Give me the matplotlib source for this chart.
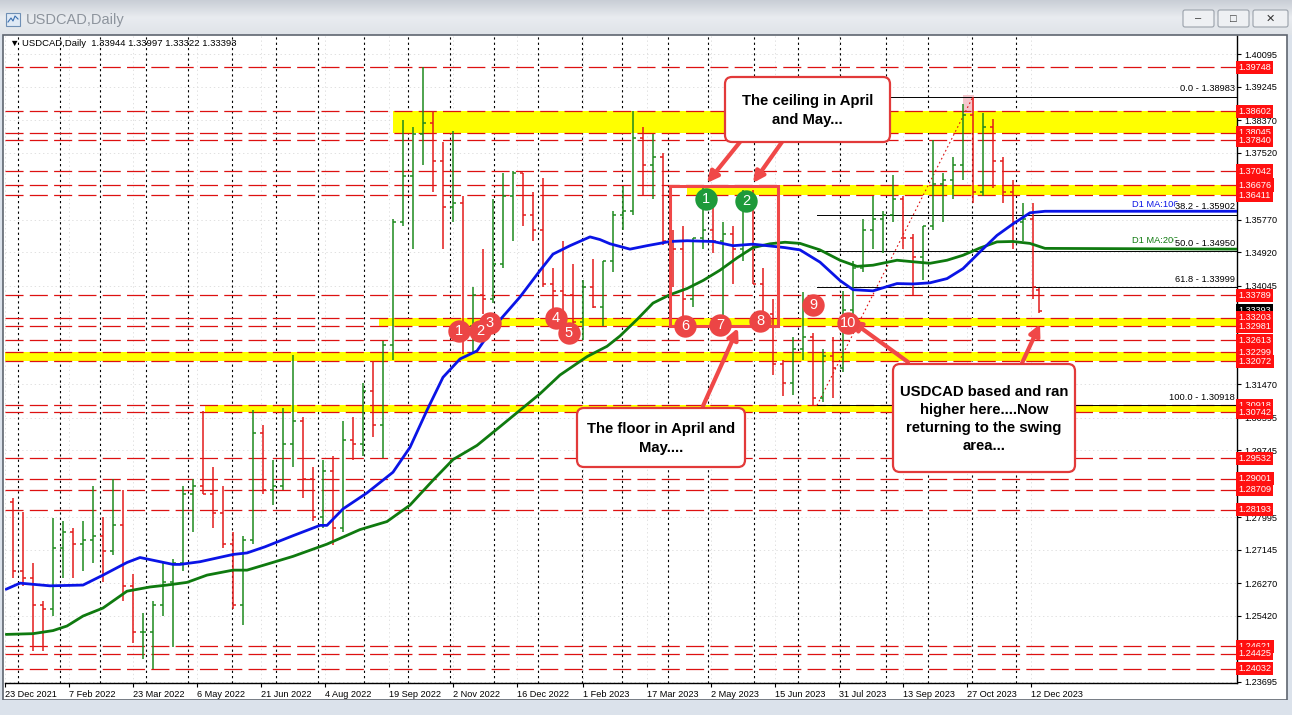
import numpy as np
import matplotlib
matplotlib.use("Agg")
import matplotlib.pyplot as plt
import matplotlib.transforms as mtransforms
from matplotlib.patches import FancyBboxPatch, Rectangle, FancyArrowPatch
from matplotlib.colors import LinearSegmentedColormap

plt.rcParams['font.family'] = ['Liberation Sans', 'DejaVu Sans']
plt.rcParams['lines.scale_dashes'] = False

ORIGIN = "2021-12-23"          # first bar on screen = bar 0

# ---- weekly OHLC, weeks from 27 Dec 2021; last entry is the 18 Dec 2023 daily bar
opens = [1.2840, 1.2660, 1.2640, 1.2570, 1.2560, 1.2720, 1.2760, 1.2730, 1.2740, 1.2750,
         1.2710, 1.2780, 1.2620, 1.2500, 1.2500, 1.2570, 1.2630, 1.2680, 1.2860, 1.2880,
         1.2860, 1.2810, 1.2730, 1.2570, 1.2740, 1.3020, 1.2870, 1.2880, 1.2990, 1.3050,
         1.2900, 1.2800, 1.2920, 1.2770, 1.3000, 1.2990, 1.3130, 1.3040, 1.3250, 1.3570,
         1.3690, 1.3800, 1.3830, 1.3730, 1.3610, 1.3620, 1.3300, 1.3380, 1.3370, 1.3460,
         1.3640, 1.3700, 1.3590, 1.3550, 1.3410, 1.3390, 1.3380, 1.3310, 1.3400, 1.3350,
         1.3470, 1.3590, 1.3600, 1.3790, 1.3720, 1.3740, 1.3520, 1.3500, 1.3370, 1.3530,
         1.3550, 1.3520, 1.3540, 1.3500, 1.3640, 1.3410, 1.3330, 1.3200, 1.3150, 1.3240,
         1.3270, 1.3110, 1.3220, 1.3190, 1.3340, 1.3450, 1.3550, 1.3580, 1.3590, 1.3630,
         1.3530, 1.3480, 1.3560, 1.3670, 1.3680, 1.3720, 1.3850, 1.3650, 1.3820, 1.3730,
         1.3650, 1.3570, 1.3580, 1.33944]
highs = [1.2850, 1.2813, 1.2680, 1.2580, 1.2796, 1.2790, 1.2770, 1.2790, 1.2880, 1.2800,
         1.2900, 1.2870, 1.2650, 1.2550, 1.2580, 1.2680, 1.2690, 1.2880, 1.2900, 1.3077,
         1.2930, 1.2880, 1.2760, 1.2750, 1.3080, 1.3040, 1.2950, 1.3085, 1.3223, 1.3060,
         1.2930, 1.2950, 1.2960, 1.3050, 1.3060, 1.3150, 1.3208, 1.3260, 1.3580, 1.3838,
         1.3820, 1.3977, 1.3860, 1.3780, 1.3808, 1.3640, 1.3400, 1.3500, 1.3630, 1.3700,
         1.3705, 1.3700, 1.3650, 1.3685, 1.3450, 1.3520, 1.3460, 1.3420, 1.3475, 1.3470,
         1.3600, 1.3665, 1.3862, 1.3820, 1.3800, 1.3750, 1.3550, 1.3560, 1.3530, 1.3667,
         1.3640, 1.3570, 1.3560, 1.3655, 1.3655, 1.3450, 1.3370, 1.3210, 1.3270, 1.3387,
         1.3280, 1.3240, 1.3270, 1.3390, 1.3470, 1.3580, 1.3640, 1.3600, 1.3694, 1.3640,
         1.3540, 1.3560, 1.3785, 1.3700, 1.3740, 1.3880, 1.3898, 1.3856, 1.3840, 1.3740,
         1.3680, 1.3620, 1.3620, 1.33997]
lows = [1.2640, 1.2620, 1.2450, 1.2450, 1.2540, 1.2640, 1.2640, 1.2660, 1.2680, 1.2630,
        1.2700, 1.2580, 1.2470, 1.2430, 1.2403, 1.2540, 1.2460, 1.2660, 1.2760, 1.2860,
        1.2770, 1.2720, 1.2560, 1.2518, 1.2730, 1.2860, 1.2830, 1.2870, 1.2930, 1.2850,
        1.2790, 1.2770, 1.2728, 1.2760, 1.2950, 1.2960, 1.3010, 1.2953, 1.3210, 1.3560,
        1.3501, 1.3720, 1.3650, 1.3500, 1.3570, 1.3226, 1.3226, 1.3330, 1.3360, 1.3450,
        1.3520, 1.3560, 1.3520, 1.3400, 1.3320, 1.3300, 1.3300, 1.3262, 1.3345, 1.3300,
        1.3440, 1.3550, 1.3590, 1.3640, 1.3630, 1.3510, 1.3400, 1.3301, 1.3350, 1.3500,
        1.3490, 1.3315, 1.3410, 1.3470, 1.3410, 1.3320, 1.3170, 1.3117, 1.3120, 1.3210,
        1.3093, 1.3100, 1.3110, 1.3180, 1.3320, 1.3440, 1.3500, 1.3490, 1.3570, 1.3500,
        1.3380, 1.3420, 1.3550, 1.3570, 1.3630, 1.3680, 1.3620, 1.3640, 1.3660, 1.3620,
        1.3500, 1.3520, 1.3370, 1.33322]
closes = [1.2660, 1.2640, 1.2570, 1.2560, 1.2720, 1.2760, 1.2730, 1.2740, 1.2750, 1.2710,
          1.2780, 1.2620, 1.2500, 1.2500, 1.2570, 1.2630, 1.2680, 1.2860, 1.2880, 1.2860,
          1.2810, 1.2730, 1.2570, 1.2740, 1.3020, 1.2870, 1.2880, 1.2990, 1.3050, 1.2900,
          1.2800, 1.2920, 1.2770, 1.3000, 1.2990, 1.3130, 1.3040, 1.3250, 1.3570, 1.3690,
          1.3800, 1.3830, 1.3730, 1.3610, 1.3620, 1.3300, 1.3380, 1.3370, 1.3460, 1.3640,
          1.3700, 1.3590, 1.3550, 1.3410, 1.3390, 1.3380, 1.3310, 1.3400, 1.3350, 1.3470,
          1.3590, 1.3600, 1.3790, 1.3720, 1.3740, 1.3520, 1.3500, 1.3370, 1.3530, 1.3550,
          1.3520, 1.3540, 1.3500, 1.3640, 1.3410, 1.3330, 1.3200, 1.3150, 1.3240, 1.3270,
          1.3110, 1.3220, 1.3190, 1.3340, 1.3450, 1.3550, 1.3580, 1.3590, 1.3630, 1.3530,
          1.3480, 1.3560, 1.3670, 1.3680, 1.3720, 1.3850, 1.3650, 1.3820, 1.3730, 1.3650,
          1.3570, 1.3580, 1.3400, 1.33393]

# ---- moving averages (bar number, value)
ma100_bar = [0.5, 7.5, 22.5, 39, 49, 61, 67.5, 84, 87.5, 97.5,
             114, 121, 130, 144, 157.5, 161, 169, 181, 187.5, 194,
             202.5, 211, 219, 227.5, 236, 244, 257.5, 267.5, 274, 282.5,
             292.5, 297.5, 302.5, 312.5, 321, 332.5, 341, 354, 364, 374,
             390, 397.5, 407.5, 417.5, 424, 434, 446, 454, 462.5, 471,
             479, 487.5, 496, 504, 512.5, 520, 616]
ma100 = [1.2611, 1.2627, 1.2620, 1.2622, 1.2648, 1.2681, 1.2694, 1.2676, 1.2676, 1.2683,
         1.2702, 1.2706, 1.2722, 1.2751, 1.2778, 1.2778, 1.2821, 1.2863, 1.2890, 1.2917,
         1.2982, 1.3079, 1.3165, 1.3213, 1.3234, 1.3294, 1.3375, 1.3444, 1.3487, 1.3509,
         1.3532, 1.3525, 1.3514, 1.3500, 1.3509, 1.3520, 1.3522, 1.3520, 1.3509, 1.3513,
         1.3504, 1.3498, 1.3466, 1.3418, 1.3394, 1.3391, 1.3410, 1.3409, 1.3412, 1.3423,
         1.3449, 1.3493, 1.3536, 1.3566, 1.3595, 1.3599, 1.3599]
ma200_bar = [0.5, 14, 24, 31, 39, 49, 61, 72.5, 81, 91,
             101, 114, 121, 130, 144, 161, 177.5, 191, 202.5, 214,
             224, 236, 247.5, 257.5, 267.5, 277.5, 291, 301, 307.5, 316,
             324, 332.5, 341, 349, 357.5, 366, 374, 382.5, 390, 397.5,
             407.5, 417.5, 426, 434, 446, 454, 462.5, 471, 479, 487.5,
             496, 504, 512.5, 520, 616]
ma200 = [1.2493, 1.2495, 1.2503, 1.2515, 1.2541, 1.2562, 1.2606, 1.2617, 1.2622, 1.2629,
         1.2648, 1.2661, 1.2661, 1.2675, 1.2697, 1.2729, 1.2767, 1.2788, 1.2831, 1.2896,
         1.2950, 1.2987, 1.3036, 1.3079, 1.3122, 1.3171, 1.3219, 1.3246, 1.3273, 1.3316,
         1.3359, 1.3381, 1.3397, 1.3418, 1.3445, 1.3477, 1.3504, 1.3514, 1.3518, 1.3515,
         1.3498, 1.3471, 1.3455, 1.3458, 1.3471, 1.3467, 1.3463, 1.3471, 1.3484, 1.3503,
         1.3519, 1.3520, 1.3515, 1.3502, 1.3500]

# ---- drawn objects
red_levels = [1.39748, 1.38602, 1.38045, 1.37840, 1.37042, 1.36676, 1.36411, 1.33789,
              1.33203, 1.32981, 1.32613, 1.32299, 1.32072, 1.30918, 1.30742, 1.29532,
              1.29001, 1.28709, 1.28193, 1.24621, 1.24425, 1.24032]
band_lo = [1.38045, 1.36411, 1.32981, 1.32072, 1.30742]
band_hi = [1.38602, 1.36676, 1.33203, 1.32299, 1.30918]
band_from = ["2022-09-21", "2023-04-14", "2022-09-12", "2021-12-23", "2022-05-12"]
last_price = 1.33393
fib_low, fib_high = 1.30918, 1.38983
fib_from, fib_to = "2023-07-14", "2023-11-01"
fib_pct = ["0.0", "38.2", "50.0", "61.8", "100.0"]
fib_val = [1.38983, 1.35902, 1.34950, 1.33999, 1.30918]

# axis prices (the ones hidden under the level labels are left out)
price_ticks = [1.40095, 1.39245, 1.38370, 1.37520, 1.35770, 1.34920, 1.34045,
               1.31470, 1.30595, 1.29745, 1.27995, 1.27145,
               1.26270, 1.25420, 1.23695]
date_ticks = ["2021-12-23", "2022-02-07", "2022-03-23", "2022-05-06", "2022-06-21",
              "2022-08-04", "2022-09-19", "2022-11-02", "2022-12-16", "2023-02-01",
              "2023-03-17", "2023-05-02", "2023-06-15", "2023-07-31", "2023-09-13",
              "2023-10-27", "2023-12-12"]
date_labels = ["23 Dec 2021", "7 Feb 2022", "23 Mar 2022", "6 May 2022", "21 Jun 2022",
               "4 Aug 2022", "19 Sep 2022", "2 Nov 2022", "16 Dec 2022", "1 Feb 2023",
               "17 Mar 2023", "2 May 2023", "15 Jun 2023", "31 Jul 2023", "13 Sep 2023",
               "27 Oct 2023", "12 Dec 2023"]

# numbered swing markers (bar, price)
red_num = ["1", "2", "3", "4", "5", "6", "7", "8", "9", "10"]
red_bar = [227, 237.5, 242.5, 275.5, 282, 340, 357.5, 377.5, 404, 421.5]
red_px = [1.3286, 1.3286, 1.3308, 1.3319, 1.3282, 1.3298, 1.3303, 1.3311, 1.3354, 1.3306]
green_num = ["1", "2"]
green_bar = [350.5, 370.5]
green_px = [1.3631, 1.3626]


def bar_no(d):
    return np.busday_count(ORIGIN, np.array(d, dtype='datetime64[D]'))


W, H = 1292, 715
fig = plt.figure(figsize=(W / 100, H / 100), dpi=100)
fig.patch.set_facecolor('#dbe2eb')

# window chrome (pixel coordinates)
chrome = fig.add_axes([0, 0, 1, 1], zorder=0)
grad = LinearSegmentedColormap.from_list('tb', ['#c9ced6', '#e9ecf0', '#dfe3e8'])
chrome.imshow(np.linspace(0, 1, 60)[:, None], extent=[0, W, 35, 0], cmap=grad, aspect='auto')
chrome.add_patch(Rectangle((3, 35), 1284, 665, fc='white', ec='#5f6670', lw=1.2))
chrome.add_patch(Rectangle((0, 700), W, 15, fc='#dbe2eb', ec='none'))
chrome.add_patch(Rectangle((6, 13), 14, 13, fc='#dfe9f5', ec='#6f8fb5', lw=0.8))
chrome.plot([8, 11, 13, 15, 18], [22, 18, 21, 16, 19], color='#3a6fb0', lw=0.8)
chrome.text(26, 20, 'USDCAD,Daily', fontsize=10.5, color='#8d949d', va='center')
for bx, glyph in zip([1183, 1218, 1253], ['\u2013', '\u25a1', '\u2715']):
    chrome.add_patch(FancyBboxPatch((bx, 10), 31 if bx < 1253 else 35, 17,
                                    boxstyle='round,pad=0,rounding_size=2',
                                    fc='#eef0f3', ec='#9aa1aa', lw=0.8))
    chrome.text(bx + (15.5 if bx < 1253 else 17.5), 18.5, glyph, fontsize=8,
                ha='center', va='center', color='#333333')
chrome.set_xlim(0, W)
chrome.set_ylim(H, 0)
chrome.axis('off')

# price chart
ax = fig.add_axes([5 / W, 32 / H, 1232 / W, 647 / H], zorder=1)
ax.set_facecolor('white')
ax.set_xlim(0, 616)
ax.set_ylim(1.236602, 1.405708)

ax.set_yticks(price_ticks)
ax.set_yticklabels([f"{p:.5f}" for p in price_ticks])
ax.yaxis.tick_right()
ax.set_xticks(bar_no(date_ticks))
ax.set_xticklabels(date_labels)
for lb in ax.get_xticklabels():
    lb.set_horizontalalignment('left')
ax.tick_params(axis='both', labelsize=6.6, length=3, width=0.8, pad=2, colors='black')
for s in ['top', 'left']:
    ax.spines[s].set_visible(False)
for s in ['right', 'bottom']:
    ax.spines[s].set_linewidth(1)
ax.grid(True, color='#dcdcdc', ls=(0, (1, 2)), lw=0.6)
ax.set_axisbelow(True)

# month separators
months = np.arange('2022-01', '2024-01', dtype='datetime64[M]').astype('datetime64[D]')
for m in bar_no(np.busday_offset(months, 0, roll='forward')):
    ax.axvline(m - 0.5, color='black', lw=0.8, ls=(0, (1.6, 2.2)), zorder=1)

# yellow zones
for lo, hi, start in zip(band_lo, band_hi, band_from):
    ax.fill_between([bar_no(start), 616], lo, hi, color='#ffff00', lw=0, zorder=1.5)

# horizontal red levels
for lv in red_levels:
    ax.axhline(lv, color='#dd1111', lw=0.9, ls=(0, (13, 4.5)), zorder=2)

# fib
f0, f1 = bar_no(fib_from), bar_no(fib_to)
for pct, v in zip(fib_pct, fib_val):
    ax.plot([f0, 616], [v, v], color='black', lw=0.7, zorder=2.5)
ax.plot([f0, f1], [fib_low, fib_high], color='#dd1111', lw=0.8, ls=(0, (1.2, 2)), zorder=2.5)
ax.add_patch(Rectangle((f1 - 5, 1.3855), 5.5, 0.0048, fc='#f4c6cc', ec='none', zorder=1.8))

# OHLC bars
mondays = np.arange('2021-12-27', '2023-12-19', 7, dtype='datetime64[D]')
mids = mondays + 2
mids[-1] = mondays[-1]
bx = bar_no(mids)
o, h, l, c = map(np.array, (opens, highs, lows, closes))
col = np.where(c >= o, '#1e8a1e', '#e31b1b')
ax.vlines(bx, l, h, colors=col, lw=1.1, zorder=3)
ax.hlines(o, bx - 1.6, bx, colors=col, lw=1.1, zorder=3)
ax.hlines(c, bx, bx + 1.6, colors=col, lw=1.1, zorder=3)

# moving averages (lines above the fib labels, MA names under them)
ax.plot(ma100_bar, ma100, color='#0a14e6', lw=2.0, zorder=3.5, solid_capstyle='round')
ax.plot(ma200_bar, ma200, color='#0f7a0f', lw=2.0, zorder=3.4, solid_capstyle='round')
ax.text(563.5, 1.3616, 'D1 MA:100', color='#0a14e6', fontsize=6.7, va='center', zorder=3.1)
ax.text(563.5, 1.3523, 'D1 MA:200', color='#0f7a0f', fontsize=6.7, va='center', zorder=3.1)
for pct, v in zip(fib_pct, fib_val):
    ax.text(615, v + 0.0021, f"{pct} - {v:.5f}", fontsize=6.7, ha='right', va='center',
            zorder=3.2, bbox=dict(boxstyle='square,pad=0.05', fc='white', ec='none'))

# header
ax.text(0.004, 0.989, '\u25bc USDCAD,Daily  1.33944 1.33997 1.33322 1.33393',
        transform=ax.transAxes, fontsize=6.8, va='center', zorder=6)

# price labels on the axis
tr = mtransforms.blended_transform_factory(ax.transAxes, ax.transData)
ax.text(1.0012, last_price, f"{last_price:.5f}", transform=tr, fontsize=6.6, color='white',
        va='center', ha='left', clip_on=False, zorder=7,
        bbox=dict(boxstyle='square,pad=0.22', fc='black', ec='none'))
for lv in red_levels:
    ax.text(1.0012, lv, f"{lv:.5f}", transform=tr, fontsize=6.6, color='white',
            va='center', ha='left', clip_on=False, zorder=8,
            bbox=dict(boxstyle='square,pad=0.22', fc='#ff1010', ec='none'))

# box around the April/May range
ax.add_patch(Rectangle((332.5, 1.3299), 54, 0.0366, fc='none', ec='#f04848', lw=2.2, zorder=5))

# arrows
arrows = [((367.5, 1.3780), (351, 1.3673)), ((388.5, 1.3780), (374, 1.3673)),
          ((349, 1.3090), (366.5, 1.3294)), ((451.5, 1.3205), (422.5, 1.3315)),
          ((508.5, 1.3202), (517.5, 1.3304))]
for tail, head in arrows:
    ax.add_patch(FancyArrowPatch(tail, head, arrowstyle='-|>', mutation_scale=16, lw=3,
                                 color='#f04848', zorder=6, clip_on=False,
                                 shrinkA=0, shrinkB=0))

# numbered markers
ax.scatter(red_bar, red_px, s=260, color='#ec4545', zorder=7, linewidths=0)
for n, xb, yp in zip(red_num, red_bar, red_px):
    ax.text(xb, yp, n, color='white', fontsize=10.5, ha='center', va='center', zorder=7.5)
ax.scatter(green_bar, green_px, s=260, color='#1e9a3a', zorder=7, linewidths=0)
for n, xb, yp in zip(green_num, green_bar, green_px):
    ax.text(xb, yp, n, color='white', fontsize=10.5, ha='center', va='center', zorder=7.5)

# text callouts (pixel coordinates)
over = fig.add_axes([0, 0, 1, 1], zorder=10)
over.patch.set_alpha(0)
over.set_xlim(0, W)
over.set_ylim(H, 0)
over.axis('off')
callouts = [
    ((725, 77, 890, 142), ["The ceiling in April", "and May..."], [101, 120]),
    ((577, 408, 745, 467), ["The floor in April and", "May...."], [429, 448]),
    ((893, 364, 1075, 472), ["USDCAD based and ran", "higher here....Now",
                             "returning to the swing", "area..."], [392, 410, 428, 446]),
]
for (x0, y0, x1, y1), lines, ys in callouts:
    over.add_patch(FancyBboxPatch((x0, y0), x1 - x0, y1 - y0,
                                  boxstyle='round,pad=0,rounding_size=7',
                                  fc='white', ec='#e23a3a', lw=1.6))
    for t, yy in zip(lines, ys):
        over.text((x0 + x1) / 2, yy, t, fontsize=10.7, fontweight='bold', ha='center',
                  va='center', color='black')

fig.savefig('out.png', dpi=100)
